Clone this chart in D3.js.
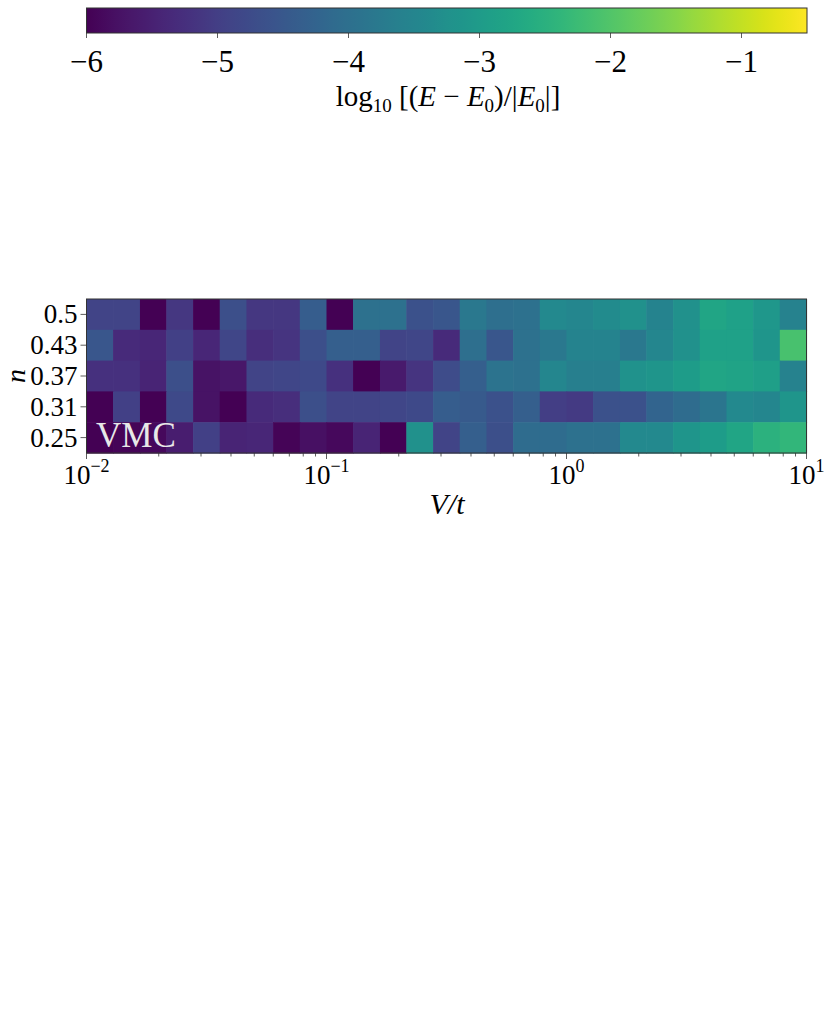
<!DOCTYPE html>
<html><head><meta charset="utf-8">
<script src="https://cdn.jsdelivr.net/npm/d3@7"></script>
<style>body{margin:0;background:#fff}text{font-family:"Liberation Serif","DejaVu Serif",serif;fill:#000}</style>
</head><body>
<svg id="c" width="831" height="1020"></svg>
<script>
const vEdges = [0.01,0.0129,0.0167,0.0215,0.0278,0.0359,0.0464,0.0599,0.0774,0.1,0.129,0.167,0.215,0.278,0.359,0.464,0.599,0.774,1,1.29,1.67,2.15,2.78,3.59,4.64,5.99,7.74,10];
const nLabels = ["0.5","0.43","0.37","0.31","0.25"];
const row050 = [-4.90,-4.90,-6.2,-5.12,-6.2,-4.68,-5.12,-5.12,-4.40,-6.2,-3.97,-3.97,-4.63,-4.52,-3.80,-4.02,-3.97,-3.42,-3.47,-3.36,-3.25,-3.53,-3.25,-2.76,-2.87,-3.09,-3.58];
const row043 = [-4.52,-5.34,-5.40,-4.96,-5.40,-4.85,-5.29,-5.18,-4.68,-4.35,-4.35,-4.90,-4.85,-5.34,-4.02,-4.52,-3.97,-3.80,-3.53,-3.53,-3.80,-3.47,-3.25,-2.87,-2.87,-3.14,-2.10];
const row037 = [-5.23,-5.23,-5.45,-4.68,-5.73,-5.67,-4.90,-4.85,-4.79,-5.23,-6.2,-5.62,-5.18,-4.74,-4.35,-3.91,-3.97,-3.47,-3.64,-3.64,-3.20,-3.14,-2.98,-2.76,-2.81,-2.92,-3.58];
const row031 = [-6.2,-4.96,-6.2,-4.79,-5.73,-6.2,-5.34,-5.29,-4.68,-4.90,-4.90,-4.85,-4.79,-4.40,-4.46,-4.63,-4.35,-5.01,-5.07,-4.63,-4.63,-4.24,-4.08,-3.86,-3.42,-3.47,-3.14];
const row025 = [-6.2,-5.95,-5.89,-5.56,-4.96,-5.45,-5.40,-5.95,-5.78,-5.89,-5.45,-6.2,-3.25,-4.90,-4.35,-4.68,-4.08,-4.08,-3.97,-3.97,-3.42,-3.42,-3.14,-2.98,-2.76,-2.48,-2.37];
const cbTicks = [-6,-5,-4,-3,-2,-1];
const xTickExps = [-2,-1,0,1];

const rows = [row050,row043,row037,row031,row025];
const svg = d3.select("#c");
const color = d3.scaleSequential(d3.interpolateViridis).domain([-6,-0.5]).clamp(true);

// heatmap
const L=86.5,R=806.5,T=299,B=453;
const x = d3.scaleLog().domain([0.01,10]).range([L,R]);
const y = d3.scaleBand().domain(nLabels).range([T,B]);
const g = svg.append("g");
const cells=[];
rows.forEach((r,i)=>r.forEach((v,j)=>cells.push({n:nLabels[i],x0:vEdges[j],x1:vEdges[j+1],v})));
g.selectAll("rect.cell").data(cells).join("rect").attr("class","cell")
 .attr("x",d=>x(d.x0)).attr("width",d=>x(d.x1)-x(d.x0)+0.6)
 .attr("y",d=>y(d.n)).attr("height",y.bandwidth()+0.6)
 .attr("fill",d=>color(d.v));
g.append("text").attr("x",96).attr("y",447).attr("font-size",35).style("fill","#e8e8e8").text("VMC");
g.append("rect").attr("x",L).attr("y",T).attr("width",R-L).attr("height",B-T).attr("fill","none").attr("stroke","#333").attr("stroke-width",1);

// x axis
const xa = svg.append("g").attr("transform",`translate(0,${B})`);
const minor=[];
for(let e=-2;e<1;e++)for(let m=2;m<10;m++)minor.push(m*Math.pow(10,e));
xa.selectAll("line.mi").data(minor).join("line").attr("x1",d=>x(d)).attr("x2",d=>x(d)).attr("y1",0).attr("y2",3.5).attr("stroke","#333").attr("stroke-width",0.8);
xa.selectAll("line.ma").data(xTickExps).join("line").attr("x1",d=>x(Math.pow(10,d))).attr("x2",d=>x(Math.pow(10,d))).attr("y1",0).attr("y2",6).attr("stroke","#333").attr("stroke-width",0.8);
const xt = xa.selectAll("text.t").data(xTickExps).join("text").attr("class","t")
 .attr("x",d=>x(Math.pow(10,d))).attr("y",31).attr("text-anchor","middle").attr("font-size",27);
xt.append("tspan").text("10");
xt.append("tspan").attr("dy",-12).attr("font-size",18).text(d=>d<0?"\u2212"+(-d):String(d));
svg.append("text").attr("x",447).attr("y",514).attr("text-anchor","middle").attr("font-size",30).attr("font-style","italic").text("V/t");

// y axis
const ya = svg.append("g");
ya.selectAll("line").data(nLabels).join("line").attr("x1",L-6).attr("x2",L).attr("y1",d=>y(d)+y.bandwidth()/2).attr("y2",d=>y(d)+y.bandwidth()/2).attr("stroke","#333").attr("stroke-width",0.8);
ya.selectAll("text").data(nLabels).join("text").attr("x",L-9).attr("y",d=>y(d)+y.bandwidth()/2+9).attr("text-anchor","end").attr("font-size",27).text(d=>d);
svg.append("text").attr("transform","translate(25,376) rotate(-90)").attr("text-anchor","middle").attr("font-size",28).attr("font-style","italic").text("n");

// colorbar
const cL=86.5,cR=807,cT=8,cB=33;
const cx = d3.scaleLinear().domain([-6,-0.5]).range([cL,cR]);
const grad = svg.append("defs").append("linearGradient").attr("id","vir");
d3.range(0,1.0001,0.02).forEach(t=>grad.append("stop").attr("offset",t).attr("stop-color",d3.interpolateViridis(t)));
svg.append("rect").attr("x",cL).attr("y",cT).attr("width",cR-cL).attr("height",cB-cT).attr("fill","url(#vir)").attr("stroke","#333").attr("stroke-width",1);
svg.selectAll("line.cb").data(cbTicks).join("line").attr("class","cb").attr("x1",d=>cx(d)).attr("x2",d=>cx(d)).attr("y1",cB).attr("y2",cB+5).attr("stroke","#333").attr("stroke-width",0.8);
svg.selectAll("text.cb").data(cbTicks).join("text").attr("class","cb").attr("x",d=>cx(d)).attr("y",72).attr("text-anchor","middle").attr("font-size",31).text(d=>"\u2212"+(-d));
const lab = svg.append("text").attr("x",448).attr("y",106).attr("text-anchor","middle").attr("font-size",29);
lab.append("tspan").text("log");
lab.append("tspan").attr("dy",6).attr("font-size",19).text("10");
lab.append("tspan").attr("dy",-6).text(" [(");
lab.append("tspan").attr("font-style","italic").text("E");
lab.append("tspan").text(" \u2212 ");
lab.append("tspan").attr("font-style","italic").text("E");
lab.append("tspan").attr("dy",6).attr("font-size",19).text("0");
lab.append("tspan").attr("dy",-6).text(")/|");
lab.append("tspan").attr("font-style","italic").text("E");
lab.append("tspan").attr("dy",6).attr("font-size",19).text("0");
lab.append("tspan").attr("dy",-6).text("|]");
</script>
</body></html>
